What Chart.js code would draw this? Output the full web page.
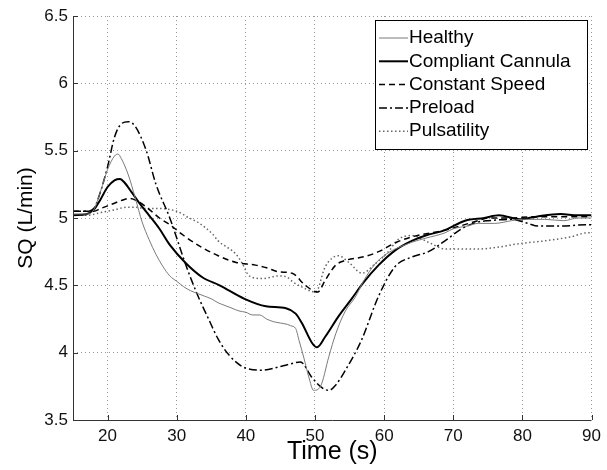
<!DOCTYPE html>
<html>
<head>
<meta charset="utf-8">
<script src="https://cdn.jsdelivr.net/npm/chart.js@4.4.1/dist/chart.umd.min.js"></script>
<style>
  html, body { margin: 0; padding: 0; background: #fff; }
  #wrap { width: 607px; height: 470px; }
</style>
</head>
<body>
<div id="wrap"><canvas id="grafico" width="607" height="470"></canvas></div>
<script>
// ticks
const xTicks = [20, 30, 40, 50, 60, 70, 80, 90];
const yTicks = [3.5, 4, 4.5, 5, 5.5, 6, 6.5];

// series (time in s, SQ in L/min)
const healthyT = [15, 17, 18, 19, 20, 21, 21.5, 22, 23, 24, 25, 26, 27, 28, 29, 30, 31, 32, 33, 34, 35, 36, 37, 38, 39, 40, 41, 42, 43, 44, 45, 46, 46.5, 47.2, 47.7, 48.4, 49.1, 49.8, 50.8, 52, 53, 54.4, 55.8, 57, 58.7, 60, 61.6, 63, 64, 66, 68.8, 70, 72, 73.6, 76, 78.4, 80, 83.2, 86, 88, 90];
const healthyV = [5.03, 5.03, 5.06, 5.2, 5.36, 5.46, 5.475, 5.44, 5.32, 5.15, 4.97, 4.84, 4.73, 4.64, 4.57, 4.53, 4.49, 4.46, 4.44, 4.42, 4.40, 4.37, 4.35, 4.33, 4.31, 4.30, 4.28, 4.28, 4.25, 4.23, 4.22, 4.21, 4.20, 4.18, 4.09, 3.96, 3.82, 3.72, 3.75, 3.97, 4.14, 4.31, 4.41, 4.53, 4.66, 4.72, 4.77, 4.80, 4.82, 4.85, 4.89, 4.92, 4.94, 4.96, 4.96, 4.98, 4.99, 4.99, 4.98, 5.0, 5.0];

const compliantT = [15, 17, 18, 19, 20, 21, 21.8, 22.5, 23.5, 24.6, 26, 27.5, 29, 31.4, 33.7, 36.2, 39.8, 42.9, 45.8, 47.2, 48.1, 49.6, 50.3, 51.5, 53.4, 55.3, 57, 59.2, 61.6, 64, 66, 68.8, 71.7, 74.5, 76.6, 79.6, 82, 85.5, 88, 90];
const compliantV = [5.02, 5.03, 5.06, 5.14, 5.23, 5.28, 5.29, 5.26, 5.19, 5.11, 5.02, 4.92, 4.80, 4.66, 4.56, 4.50, 4.40, 4.345, 4.33, 4.29, 4.22, 4.07, 4.04, 4.12, 4.27, 4.40, 4.52, 4.65, 4.76, 4.83, 4.87, 4.91, 4.98, 5.0, 5.02, 4.99, 5.01, 5.03, 5.02, 5.02];

const constSpeedT = [15, 17, 18, 19, 20, 21, 22, 23.2, 24.5, 26.1, 27.5, 29, 31, 33.7, 36, 38.6, 41.4, 43, 44.8, 46.7, 48.6, 50.4, 51.5, 53, 54.4, 57.3, 59.2, 61.8, 64, 68.8, 73.6, 75, 78, 82, 86, 90];
const constSpeedV = [5.05, 5.05, 5.05, 5.07, 5.09, 5.11, 5.13, 5.145, 5.12, 5.06, 5.0, 4.95, 4.87, 4.78, 4.72, 4.67, 4.65, 4.63, 4.60, 4.59, 4.50, 4.45, 4.54, 4.65, 4.685, 4.715, 4.75, 4.82, 4.86, 4.91, 4.98, 5.0, 5.0, 5.01, 5.01, 5.01];

const preloadT = [15, 17, 18, 19, 20, 21, 22, 23, 24, 25.6, 27, 29, 31.4, 33, 34.7, 36, 37.6, 40, 42.4, 44.8, 46, 47.9, 49.5, 51, 52, 53, 54.4, 56.7, 59.2, 61.6, 64, 66.4, 68.8, 71.2, 73.6, 75, 78.4, 80.8, 82.2, 85.5, 89.4, 90];
const preloadV = [5.05, 5.05, 5.07, 5.2, 5.38, 5.6, 5.70, 5.715, 5.68, 5.5, 5.25, 5.0, 4.64, 4.43, 4.24, 4.1, 3.98, 3.885, 3.87, 3.895, 3.91, 3.93, 3.82, 3.74, 3.72, 3.76, 3.87, 4.09, 4.42, 4.64, 4.71, 4.75, 4.83, 4.92, 4.97, 4.98, 4.99, 4.96, 4.94, 4.94, 4.95, 4.95];

const pulsT = [15, 17, 19, 20, 21, 22.7, 24, 25.5, 27.5, 30, 31.8, 33.3, 35.2, 36, 38.6, 39.5, 40.5, 42.4, 44.8, 46, 46.7, 48, 50.1, 51.5, 53.4, 54.9, 56.8, 58.7, 60.6, 62, 64, 66.4, 68.8, 70, 73.6, 76, 79.6, 83.2, 87, 89.4, 90];
const pulsV = [5.02, 5.02, 5.04, 5.05, 5.06, 5.08, 5.08, 5.07, 5.07, 5.05, 5.0, 4.96, 4.88, 4.83, 4.73, 4.66, 4.57, 4.55, 4.57, 4.56, 4.53, 4.49, 4.45, 4.64, 4.72, 4.67, 4.59, 4.66, 4.75, 4.84, 4.87, 4.82, 4.77, 4.77, 4.77, 4.78, 4.81, 4.83, 4.86, 4.89, 4.89];

function puntos(t, v) {
    return t.map((x, i) => ({ x: x, y: v[i] }));
}

const FONT = 'Arial, "Liberation Sans", sans-serif';

// inward tick marks like matlab
const marcas = {
    id: 'marcas',
    afterDraw(chart) {
        const ctx = chart.ctx;
        const a = chart.chartArea;
        const sx = chart.scales.x, sy = chart.scales.y;
        ctx.save();
        ctx.strokeStyle = '#333';
        ctx.lineWidth = 1;
        ctx.setLineDash([]);
        ctx.beginPath();
        // axis lines
        ctx.moveTo(a.left + 0.5, a.top);
        ctx.lineTo(a.left + 0.5, a.bottom + 0.5);
        ctx.lineTo(a.right, a.bottom + 0.5);
        xTicks.forEach(v => {
            const px = Math.round(sx.getPixelForValue(v)) + 0.5;
            ctx.moveTo(px, a.bottom);
            ctx.lineTo(px, a.bottom - 5);
        });
        yTicks.forEach(v => {
            const py = Math.round(sy.getPixelForValue(v)) + 0.5;
            ctx.moveTo(a.left, py);
            ctx.lineTo(a.left + 5, py);
        });
        ctx.stroke();
        ctx.restore();
    }
};

// boxed legend in the top right corner
const leyenda = {
    id: 'leyenda',
    afterDatasetsDraw(chart) {
        const ctx = chart.ctx;
        const x0 = 375, y0 = 20, w = 212, h = 129;
        ctx.save();
        ctx.fillStyle = '#fff';
        ctx.fillRect(x0, y0, w, h);
        ctx.strokeStyle = '#000';
        ctx.lineWidth = 1;
        ctx.setLineDash([]);
        ctx.strokeRect(x0 + 0.5, y0 + 0.5, w, h);
        ctx.font = '19px ' + FONT;
        ctx.textBaseline = 'middle';
        ctx.fillStyle = '#000';
        chart.data.datasets.forEach((ds, i) => {
            const y = 38 + i * 23.3;
            ctx.strokeStyle = ds.borderColor;
            ctx.lineWidth = ds.borderWidth;
            ctx.setLineDash(ds.borderDash || []);
            ctx.beginPath();
            ctx.moveTo(379, y);
            ctx.lineTo(408, y);
            ctx.stroke();
            ctx.fillText(ds.label, 409, y);
        });
        ctx.restore();
    }
};

const ctx = document.getElementById('grafico').getContext('2d');
const grafico = new Chart(ctx, {
    type: 'line',
    data: {
        datasets: [
            {
                label: 'Healthy',
                data: puntos(healthyT, healthyV),
                borderColor: '#7a7a7a',
                borderWidth: 1,
                borderDash: [],
            },
            {
                label: 'Compliant Cannula',
                data: puntos(compliantT, compliantV),
                borderColor: '#000',
                borderWidth: 2,
                borderDash: [],
            },
            {
                label: 'Constant Speed',
                data: puntos(constSpeedT, constSpeedV),
                borderColor: '#000',
                borderWidth: 1.5,
                borderDash: [6, 4],
            },
            {
                label: 'Preload',
                data: puntos(preloadT, preloadV),
                borderColor: '#000',
                borderWidth: 1.5,
                borderDash: [8, 3, 2, 3],
            },
            {
                label: 'Pulsatility',
                data: puntos(pulsT, pulsV),
                borderColor: '#666',
                borderWidth: 1.5,
                borderDash: [1.5, 2.5],
            }
        ]
    },
    options: {
        responsive: false,
        animation: false,
        layout: { padding: { top: 16, right: 13, left: 0, bottom: 0 } },
        elements: {
            point: { radius: 0 },
            line: { cubicInterpolationMode: 'monotone', fill: false }
        },
        plugins: {
            legend: { display: false },
            tooltip: { enabled: false }
        },
        scales: {
            x: {
                type: 'linear',
                min: 15,
                max: 90,
                afterBuildTicks: (s) => { s.ticks = xTicks.map(v => ({ value: v })); },
                afterFit: (s) => { s.height = 50; },
                grid: { color: '#999', drawTicks: false, lineWidth: 1 },
                border: { display: false, dash: [1, 3] },
                ticks: { font: { size: 17, family: FONT }, color: '#111', padding: 6, maxRotation: 0 },
                title: { display: true, text: 'Time (s)', font: { size: 25, family: FONT }, color: '#000', padding: { top: 0, bottom: 3 } }
            },
            y: {
                min: 3.5,
                max: 6.5,
                afterBuildTicks: (s) => { s.ticks = yTicks.map(v => ({ value: v })); },
                afterFit: (s) => { s.width = 73; },
                grid: { color: '#999', drawTicks: false, lineWidth: 1 },
                border: { display: false, dash: [1, 3] },
                ticks: { font: { size: 17, family: FONT }, color: '#111', padding: 5, callback: (v) => String(v) },
                title: { display: true, text: 'SQ (L/min)', font: { size: 21, family: FONT }, color: '#000', padding: { top: 14, bottom: 0 } }
            }
        }
    },
    plugins: [marcas, leyenda]
});
</script>
</body>
</html>
